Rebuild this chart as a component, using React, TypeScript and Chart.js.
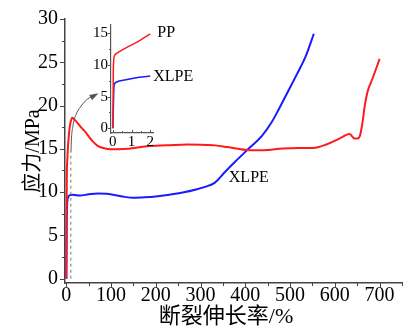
import React, { useEffect, useRef } from "react";
import { Chart, registerables } from "chart.js";

Chart.register(...registerables);

const FONT = "'Liberation Serif', 'Noto Sans CJK SC', serif";

// ---- main chart data (strain %, stress MPa) ----
const ppStrain = [0, 0.5, 1, 2, 4, 7, 10, 13, 18, 25, 31, 38, 45, 52, 60, 70, 82, 100, 136, 180, 225, 270, 314, 333, 360, 410, 440, 484, 520, 551, 581, 611, 633, 644, 651, 656, 659, 663, 666, 673, 684, 700];
const ppStress = [0, 7, 11.5, 13.5, 15.5, 17.3, 18.2, 18.6, 18.4, 18.0, 17.6, 17.2, 16.8, 16.3, 15.8, 15.35, 15.1, 14.95, 15.0, 15.3, 15.4, 15.5, 15.45, 15.4, 15.2, 14.85, 14.85, 15.05, 15.1, 15.1, 15.5, 16.2, 16.7, 16.2, 16.2, 16.5, 17.2, 18.5, 19.7, 21.6, 23.1, 25.4];

const xlpeStrain = [0, 0.5, 1, 2, 4, 8, 15, 30, 50, 70, 90, 110, 130, 150, 175, 200, 230, 260, 290, 310, 332, 354, 377, 407, 437, 459, 475, 495, 515, 535, 553];
const xlpeStress = [0, 4, 7, 8.8, 9.4, 9.65, 9.7, 9.6, 9.75, 9.85, 9.8, 9.65, 9.45, 9.35, 9.4, 9.5, 9.7, 9.95, 10.3, 10.6, 11.1, 12.3, 13.5, 15.0, 16.5, 18.1, 19.6, 21.6, 23.6, 25.7, 28.3];

// zoom marker (dashed line) and arrow path toward inset
const markerStrain = [10, 10];
const markerStress = [0, 14.6];
const arrowStrain = [10.3, 11.5, 14.5, 22, 31, 46, 68];
const arrowStress = [14.6, 16.2, 17.6, 19.0, 19.8, 20.7, 21.3];

// ---- inset data (strain 0-2 %) ----
const insetPPStrain = [0, 0.01, 0.02, 0.04, 0.08, 0.15, 0.3, 0.7, 1.3, 2.0];
const insetPPStress = [0, 3, 8, 10.5, 11.4, 11.7, 12.0, 12.7, 13.6, 14.9];
const insetXStrain = [0, 0.02, 0.04, 0.06, 0.09, 0.2, 0.7, 1.4, 2.0];
const insetXStress = [0, 2.5, 5, 6.6, 7.0, 7.3, 7.65, 8.05, 8.25];

// ---- axis ranges & titles ----
const mainXRange = [-3, 750];
const mainYRange = [-0.5, 30];
const insetXRange = [-0.1, 2.15];
const insetYRange = [-0.75, 16.3];
const xTitle = "断裂伸长率/%";
const yTitle = "应力/MPa";

const pts = (xs: number[], ys: number[]) => xs.map((x, i) => ({ x, y: ys[i] }));

type TickCfg = {
  xMajor: number; xMinor: number; yMajor: number; yMinor: number;
  majorLen: number; minorLen: number; xDir: number; color: string; width: number;
};

function makeTicksPlugin(id: string, cfg: TickCfg) {
  return {
    id,
    afterDraw(chart: any) {
      const { ctx, chartArea, scales } = chart;
      const xs = scales.x, ys = scales.y;
      ctx.save();
      ctx.strokeStyle = cfg.color;
      ctx.lineWidth = cfg.width;
      ctx.beginPath();
      const eps = 1e-6;
      for (let v = Math.ceil(xs.min / cfg.xMinor) * cfg.xMinor; v <= xs.max + eps; v += cfg.xMinor) {
        const isMajor = Math.abs(v / cfg.xMajor - Math.round(v / cfg.xMajor)) < 1e-6;
        const len = isMajor ? cfg.majorLen : cfg.minorLen;
        const px = Math.round(xs.getPixelForValue(v)) + 0.5;
        ctx.moveTo(px, chartArea.bottom);
        ctx.lineTo(px, chartArea.bottom + cfg.xDir * len);
      }
      for (let v = Math.ceil(ys.min / cfg.yMinor) * cfg.yMinor; v <= ys.max + eps; v += cfg.yMinor) {
        const isMajor = Math.abs(v / cfg.yMajor - Math.round(v / cfg.yMajor)) < 1e-6;
        const len = isMajor ? cfg.majorLen : cfg.minorLen;
        const py = Math.round(ys.getPixelForValue(v)) + 0.5;
        ctx.moveTo(chartArea.left, py);
        ctx.lineTo(chartArea.left - len, py);
      }
      ctx.stroke();
      ctx.restore();
    },
  };
}

function makeLabelsPlugin(id: string, items: { text: string; x: number; y: number }[], size: number) {
  return {
    id,
    afterDraw(chart: any) {
      const { ctx, scales } = chart;
      ctx.save();
      ctx.fillStyle = "#000";
      ctx.font = `${size}px ${FONT}`;
      ctx.textAlign = "left";
      ctx.textBaseline = "middle";
      items.forEach((it) => {
        ctx.fillText(it.text, scales.x.getPixelForValue(it.x), scales.y.getPixelForValue(it.y));
      });
      ctx.restore();
    },
  };
}

// x-axis title, drawn slightly left of the plot-area centre as in the original
const xTitlePlugin = {
  id: "xTitle",
  afterDraw(chart: any) {
    const { ctx, chartArea } = chart;
    ctx.save();
    ctx.fillStyle = "#000";
    ctx.font = `22px ${FONT}`;
    ctx.textAlign = "center";
    ctx.textBaseline = "middle";
    ctx.fillText(xTitle, chartArea.left + 161, chartArea.bottom + 34);
    ctx.restore();
  },
};

const arrowHeadPlugin = {
  id: "arrowHead",
  afterDatasetsDraw(chart: any) {
    const idx = chart.data.datasets.findIndex((d: any) => d.label === "arrow");
    if (idx < 0) return;
    const meta = chart.getDatasetMeta(idx);
    const n = meta.data.length;
    if (n < 2) return;
    const p1 = meta.data[n - 2], p2 = meta.data[n - 1];
    const ang = Math.atan2(p2.y - p1.y, p2.x - p1.x);
    const { ctx } = chart;
    const L = 7, W = 3;
    ctx.save();
    ctx.fillStyle = "#555";
    ctx.beginPath();
    ctx.moveTo(p2.x + Math.cos(ang) * 2, p2.y + Math.sin(ang) * 2);
    ctx.lineTo(p2.x - Math.cos(ang) * L + Math.sin(ang) * W, p2.y - Math.sin(ang) * L - Math.cos(ang) * W);
    ctx.lineTo(p2.x - Math.cos(ang) * L - Math.sin(ang) * W, p2.y - Math.sin(ang) * L + Math.cos(ang) * W);
    ctx.closePath();
    ctx.fill();
    ctx.restore();
  },
};

export default function App() {
  const mainRef = useRef<HTMLCanvasElement>(null);
  const insetRef = useRef<HTMLCanvasElement>(null);

  useEffect(() => {
    const main = new Chart(mainRef.current as HTMLCanvasElement, {
      type: "line",
      data: {
        datasets: [
          {
            label: "marker",
            data: pts(markerStrain, markerStress),
            borderColor: "#777",
            borderWidth: 1,
            borderDash: [3, 3],
            pointRadius: 0,
            tension: 0,
          },
          {
            label: "arrow",
            data: pts(arrowStrain, arrowStress),
            borderColor: "#555",
            borderWidth: 1,
            pointRadius: 0,
            cubicInterpolationMode: "monotone",
          },
          {
            label: "PP",
            data: pts(ppStrain, ppStress),
            borderColor: "#ff1a1a",
            borderWidth: 2,
            pointRadius: 0,
            cubicInterpolationMode: "monotone",
          },
          {
            label: "XLPE",
            data: pts(xlpeStrain, xlpeStress),
            borderColor: "#1a1aff",
            borderWidth: 2,
            pointRadius: 0,
            cubicInterpolationMode: "monotone",
          },
        ],
      } as any,
      options: {
        responsive: false,
        animation: false,
        devicePixelRatio: 1,
        layout: { padding: { left: 0, right: 2, top: 17, bottom: 0 } },
        plugins: { legend: { display: false }, tooltip: { enabled: false } },
        scales: {
          x: {
            type: "linear",
            min: mainXRange[0],
            max: mainXRange[1],
            afterFit: (s: any) => { s.height = 47; },
            grid: { display: false, drawTicks: false },
            border: { display: true, color: "#444", width: 1.5 },
            ticks: {
              stepSize: 100,
              includeBounds: false,
              padding: 1,
              color: "#000",
              maxRotation: 0,
              autoSkip: false,
              font: { family: FONT, size: 20 },
            },
          },
          y: {
            type: "linear",
            min: mainYRange[0],
            max: mainYRange[1],
            afterFit: (s: any) => { s.width = 65; },
            grid: { display: false, drawTicks: false },
            border: { display: true, color: "#444", width: 1.5 },
            ticks: {
              stepSize: 5,
              includeBounds: false,
              padding: 7,
              color: "#000",
              font: { family: FONT, size: 20 },
            },
            title: {
              display: true,
              text: yTitle,
              color: "#000",
              font: { family: FONT, size: 20 },
              padding: { top: 22, bottom: 0 },
            },
          },
        },
      } as any,
      plugins: [
        makeTicksPlugin("mainTicks", { xMajor: 100, xMinor: 50, yMajor: 5, yMinor: 2.5, majorLen: 5, minorLen: 3, xDir: 1, color: "#444", width: 1 }),
        makeLabelsPlugin("mainLabels", [{ text: "XLPE", x: 363, y: 11.6 }], 16),
        arrowHeadPlugin,
        xTitlePlugin,
      ],
    });

    const inset = new Chart(insetRef.current as HTMLCanvasElement, {
      type: "line",
      data: {
        datasets: [
          {
            label: "PP",
            data: pts(insetPPStrain, insetPPStress),
            borderColor: "#ff1a1a",
            borderWidth: 1.5,
            pointRadius: 0,
            cubicInterpolationMode: "monotone",
          },
          {
            label: "XLPE",
            data: pts(insetXStrain, insetXStress),
            borderColor: "#1a1aff",
            borderWidth: 1.5,
            pointRadius: 0,
            cubicInterpolationMode: "monotone",
          },
        ],
      } as any,
      options: {
        responsive: false,
        animation: false,
        devicePixelRatio: 1,
        layout: { padding: { left: 81, right: 251, top: 25, bottom: 177 } },
        plugins: { legend: { display: false }, tooltip: { enabled: false } },
        scales: {
          x: {
            type: "linear",
            min: insetXRange[0],
            max: insetXRange[1],
            afterFit: (s: any) => { s.height = 20; },
            grid: { display: false, drawTicks: false },
            border: { display: true, color: "#555", width: 1.2 },
            ticks: {
              stepSize: 1,
              includeBounds: false,
              padding: 0,
              color: "#000",
              maxRotation: 0,
              autoSkip: false,
              font: { family: FONT, size: 15 },
            },
          },
          y: {
            type: "linear",
            min: insetYRange[0],
            max: insetYRange[1],
            afterFit: (s: any) => { s.width = 30; },
            grid: { display: false, drawTicks: false },
            border: { display: true, color: "#555", width: 1.2 },
            ticks: {
              stepSize: 5,
              includeBounds: false,
              padding: 3,
              color: "#000",
              font: { family: FONT, size: 15 },
            },
          },
        },
      } as any,
      plugins: [
        makeTicksPlugin("insetTicks", { xMajor: 1, xMinor: 0.5, yMajor: 5, yMinor: 2.5, majorLen: 3, minorLen: 2, xDir: -1, color: "#555", width: 1 }),
        makeLabelsPlugin("insetLabels", [
          { text: "PP", x: 2.38, y: 15.0 },
          { text: "XLPE", x: 2.16, y: 8.2 },
        ], 16),
      ],
    });

    return () => {
      main.destroy();
      inset.destroy();
    };
  }, []);

  return (
    <div style={{ position: "fixed", left: 0, top: 0, width: 404, height: 330, background: "#fff" }}>
      <canvas ref={mainRef} width={404} height={330} style={{ position: "absolute", left: 0, top: 0 }} />
      <canvas ref={insetRef} width={404} height={330} style={{ position: "absolute", left: 0, top: 0, pointerEvents: "none" }} />
    </div>
  );
}
